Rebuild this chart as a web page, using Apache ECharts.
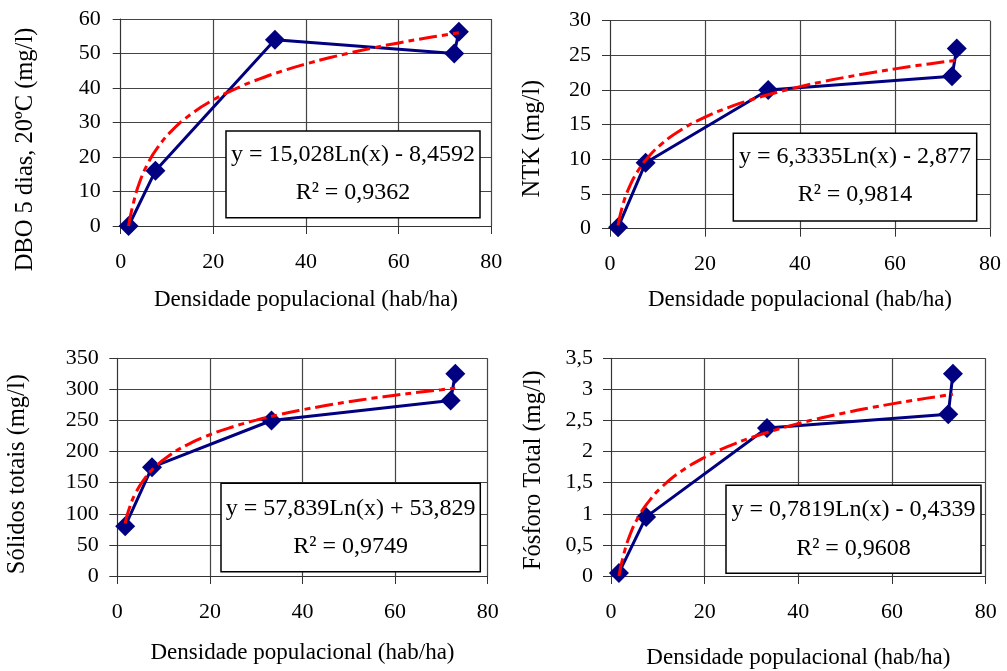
<!DOCTYPE html>
<html>
<head>
<meta charset="utf-8">
<script src="https://cdn.jsdelivr.net/npm/echarts@6/dist/echarts.min.js"></script>
<style>html,body{margin:0;padding:0;background:#fff;}#c{width:1007px;height:671px;}</style>
</head>
<body>
<div id="c"></div>
<script>
// ---- data ----
const densX = [1.7, 7.5, 33.3, 72, 73];
const dboY = [0, 16, 54, 50, 56.3];
const ntkY = [0.2, 9.5, 20, 22, 26];
const stY = [80, 175, 250, 282, 325];
const ptY = [0.05, 0.95, 2.38, 2.6, 3.25];

// logarithmic trend lines
const trendX = [1.7, 2.5, 4, 6, 8, 11, 15, 20, 25, 30, 35, 40, 45, 50, 55, 60, 65, 70, 73];
const dboTrend = [0, 5.31, 12.37, 18.47, 22.79, 27.58, 32.24, 36.56, 39.91, 42.65, 44.97, 46.98, 48.75, 50.33, 51.76, 53.07, 54.27, 55.39, 56.02];
const ntkTrend = [0.48, 2.93, 5.90, 8.47, 10.29, 12.31, 14.27, 16.10, 17.51, 18.66, 19.64, 20.49, 21.23, 21.90, 22.50, 23.05, 23.56, 24.03, 24.30];
const stTrend = [84.5, 106.8, 134.0, 157.5, 174.1, 192.5, 210.5, 227.1, 240.0, 250.6, 259.5, 267.2, 274.0, 280.1, 285.6, 290.6, 295.3, 299.6, 302.0];
const ptTrend = [0, 0.283, 0.650, 0.967, 1.192, 1.441, 1.684, 1.909, 2.083, 2.226, 2.346, 2.451, 2.543, 2.625, 2.699, 2.767, 2.830, 2.888, 2.921];

const yNames = ['DBO 5 dias, 20ºC (mg/l)', 'NTK (mg/l)', 'Sólidos totais (mg/l)', 'Fósforo Total (mg/l)'];
const xName = 'Densidade populacional (hab/ha)';
const yMax = [60, 30, 350, 3.5];
const yStep = [10, 5, 50, 0.5];
const eqLine1 = ['y = 15,028Ln(x) - 8,4592', 'y = 6,3335Ln(x) - 2,877', 'y = 57,839Ln(x) + 53,829', 'y = 0,7819Ln(x) - 0,4339'];
const eqLine2 = ['R² = 0,9362', 'R² = 0,9814', 'R² = 0,9749', 'R² = 0,9608'];

// ---- layout ----
const FONT = "'Liberation Serif', 'Times New Roman', serif";
const grids = [
  {left: 120.7, top: 19, width: 370.6, height: 207},
  {left: 610, top: 20.7, width: 380, height: 208},
  {left: 117.3, top: 358.3, width: 370.4, height: 217.7},
  {left: 611, top: 358.3, width: 374.7, height: 217.7}
];
const xNameGap = [62, 60, 65, 70];
const yNameGap = [83, 65, 87, 65];
const yNameShift = [27, 14, 7, 3];
const yLabelMargin = [20, 19, 18.6, 18];
const boxes = [
  {x: 226, y: 131, w: 254, h: 86.7, l1: 155, l2: 193},
  {x: 733.3, y: 133.3, w: 243.4, h: 87.7, l1: 156.7, l2: 195},
  {x: 221, y: 483.3, w: 259.3, h: 88.4, l1: 508.3, l2: 546.7},
  {x: 726, y: 485.3, w: 255, h: 88, l1: 510, l2: 548.3}
];

const ys = [dboY, ntkY, stY, ptY];
const trends = [dboTrend, ntkTrend, stTrend, ptTrend];

const xAxes = [], yAxes = [], series = [], graphics = [];
for (let i = 0; i < 4; i++) {
  xAxes.push({
    type: 'value', gridIndex: i, min: 0, max: 80, interval: 20,
    name: xName, nameLocation: 'middle', nameGap: xNameGap[i],
    nameTextStyle: {fontFamily: FONT, fontSize: 23, color: '#000'},
    axisLine: {show: true, onZero: false, lineStyle: {color: '#333', width: 1}},
    axisTick: {show: true, length: 8, lineStyle: {color: '#333'}},
    axisLabel: {margin: 25, fontFamily: FONT, fontSize: 22, color: '#000'},
    splitLine: {show: true, lineStyle: {color: '#444', width: 1.2}}
  });
  yAxes.push({
    type: 'value', gridIndex: i, min: 0, max: yMax[i], interval: yStep[i],
    name: yNames[i], nameLocation: 'middle', nameGap: yNameGap[i],
    nameTextStyle: {fontFamily: FONT, fontSize: 24.5, color: '#000', padding: [0, 2 * yNameShift[i], 0, 0]},
    axisLine: {show: true, lineStyle: {color: '#333', width: 1}},
    axisTick: {show: true, length: 8, lineStyle: {color: '#333'}},
    axisLabel: {margin: yLabelMargin[i], fontFamily: FONT, fontSize: 22, color: '#000',
      formatter: v => String(v).replace('.', ',')},
    splitLine: {show: true, lineStyle: {color: '#444', width: 1.2}}
  });
  series.push({
    type: 'line', xAxisIndex: i, yAxisIndex: i,
    data: densX.map((x, k) => [x, ys[i][k]]),
    symbol: 'diamond', symbolSize: 20,
    lineStyle: {color: '#000080', width: 3},
    itemStyle: {color: '#000080'},
    z: 3, animation: false
  });
  series.push({
    type: 'line', xAxisIndex: i, yAxisIndex: i,
    data: trendX.map((x, k) => [x, trends[i][k]]),
    symbol: 'none', smooth: true,
    lineStyle: {color: '#ff0000', width: 3, type: [18, 5, 6, 5]},
    z: 4, animation: false
  });
  const b = boxes[i];
  graphics.push({type: 'rect', shape: {x: b.x, y: b.y, width: b.w, height: b.h},
    style: {fill: '#fff', stroke: '#000', lineWidth: 1.5}, z: 100});
  graphics.push({type: 'text', x: b.x + b.w / 2, y: b.l1, z: 101,
    style: {text: eqLine1[i], font: '24px ' + FONT, fill: '#000', textAlign: 'center', textVerticalAlign: 'middle'}});
  graphics.push({type: 'text', x: b.x + b.w / 2, y: b.l2, z: 101,
    style: {text: eqLine2[i], font: '24px ' + FONT, fill: '#000', textAlign: 'center', textVerticalAlign: 'middle'}});
}

const chart = echarts.init(document.getElementById('c'), null, {renderer: 'canvas'});
chart.setOption({
  backgroundColor: '#fff',
  animation: false,
  grid: grids,
  xAxis: xAxes,
  yAxis: yAxes,
  series: series,
  graphic: graphics
});
</script>
</body>
</html>
